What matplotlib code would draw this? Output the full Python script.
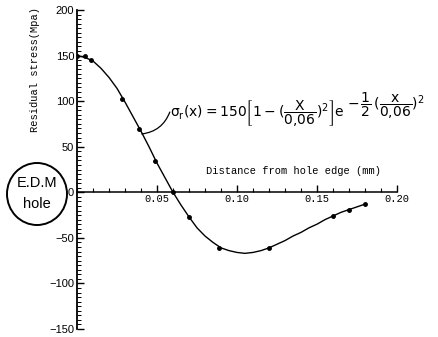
import matplotlib

matplotlib.use("Agg")
import matplotlib.pyplot as plt
from matplotlib.patches import Ellipse
from matplotlib.ticker import MultipleLocator

# curve (mm, MPa)
curve_x = [0.000, 0.005, 0.010, 0.015, 0.020, 0.025, 0.030, 0.035, 0.040, 0.045,
           0.050, 0.055, 0.060, 0.065, 0.070, 0.075, 0.080, 0.085, 0.090, 0.095,
           0.100, 0.105, 0.110, 0.115, 0.120, 0.125, 0.130, 0.135, 0.140, 0.145,
           0.150, 0.155, 0.160, 0.165, 0.170, 0.175, 0.180]
curve_y = [150, 148, 144, 136, 126, 114, 99, 83, 67, 50,
           32, 16, 0, -14, -27, -39, -48, -55, -61, -64,
           -66, -67, -66, -64, -61, -57, -53, -48, -44, -39,
           -35, -30, -26, -22, -19, -16, -13]

# measured points (dots on the curve)
point_x = [0.0, 0.005, 0.009, 0.028, 0.039, 0.049, 0.060, 0.070, 0.089, 0.120, 0.160, 0.170, 0.180]
point_y = [150, 149, 145, 102, 69, 34, 0, -27, -61, -61, -26, -19, -13]

x_ticks = [0.05, 0.10, 0.15, 0.20]
x_tick_labels = ["0.05", "0.10", "0.15", "0.20"]
y_ticks = [-150, -100, -50, 0, 50, 100, 150, 200]
y_tick_labels = ["\u2212150", "\u2212100", "\u221250", "0", "50", "100", "150", "200"]

plt.rcParams["mathtext.default"] = "regular"

W, H = 438, 337
fig = plt.figure(figsize=(W / 100, H / 100), dpi=100)
ax = fig.add_axes([77 / W, 1 - 329 / H, 320 / W, 319 / H])

ax.plot(curve_x, curve_y, color="black", linewidth=1.0)
ax.plot(point_x, point_y, "o", color="black", markersize=2.5)

ax.set_xlim(0, 0.20)
ax.set_ylim(-150, 200)

ax.spines["top"].set_visible(False)
ax.spines["right"].set_visible(False)
ax.spines["bottom"].set_position(("data", 0))
ax.spines["left"].set_linewidth(1.3)
ax.spines["bottom"].set_linewidth(1.1)

ax.set_xticks(x_ticks)
ax.set_xticklabels(x_tick_labels, family="Liberation Mono", fontsize=7.5)
ax.xaxis.set_minor_locator(MultipleLocator(0.01))
ax.set_yticks(y_ticks)
ax.set_yticklabels(y_tick_labels, family="Liberation Sans", fontsize=8)
ax.yaxis.set_minor_locator(MultipleLocator(5))

ax.tick_params(axis="x", which="major", direction="in", length=5, width=1, pad=1)
ax.tick_params(axis="x", which="minor", direction="in", length=3, width=0.8)
ax.tick_params(axis="y", which="major", direction="in", length=5, width=1, pad=2)
ax.tick_params(axis="y", which="minor", direction="in", length=3, width=0.7)

ax.text(0.135, 23, "Distance from hole edge (mm)", family="Liberation Mono",
        fontsize=7.5, ha="center", va="center")
fig.text(35 / W, 1 - 70 / H, "Residual stress(Mpa)", family="Liberation Mono",
         fontsize=7.5, rotation=90, ha="center", va="center")

# formula label: main line, then the raised exponent placed right after it
main_part = r"$\sigma_r(x)=150\left[1-(\dfrac{X}{0{,}06})^2\right]e$"
exp_part = r"$-\,\dfrac{1}{2}\,(\dfrac{x}{0{,}06})^2$"
t_main = fig.text(170 / W, 1 - 117 / H, main_part, fontsize=10, ha="left", va="baseline")
fig.canvas.draw()
bb = t_main.get_window_extent(fig.canvas.get_renderer())
fig.text((bb.x1 + 2) / W, 1 - 109 / H, exp_part, fontsize=10, ha="left", va="baseline")

# wiggly leader from the curve to the formula
ax.annotate("", xy=(0.0405, 64), xytext=(0.058, 88),
            arrowprops=dict(arrowstyle="-", color="black", linewidth=0.9,
                            connectionstyle="arc3,rad=-0.3", shrinkA=0, shrinkB=0))

# E.D.M hole marker left of the axis
hole = Ellipse((37, H - 194), 60, 62, transform=None, fill=False,
               edgecolor="black", linewidth=1.4)
fig.patches.append(hole)
fig.text(37 / W, 1 - 183 / H, "E.D.M", family="Liberation Sans", fontsize=10.5,
         ha="center", va="center")
fig.text(37 / W, 1 - 204 / H, "hole", family="Liberation Sans", fontsize=10.5,
         ha="center", va="center")

fig.savefig("out.png", dpi=100)
